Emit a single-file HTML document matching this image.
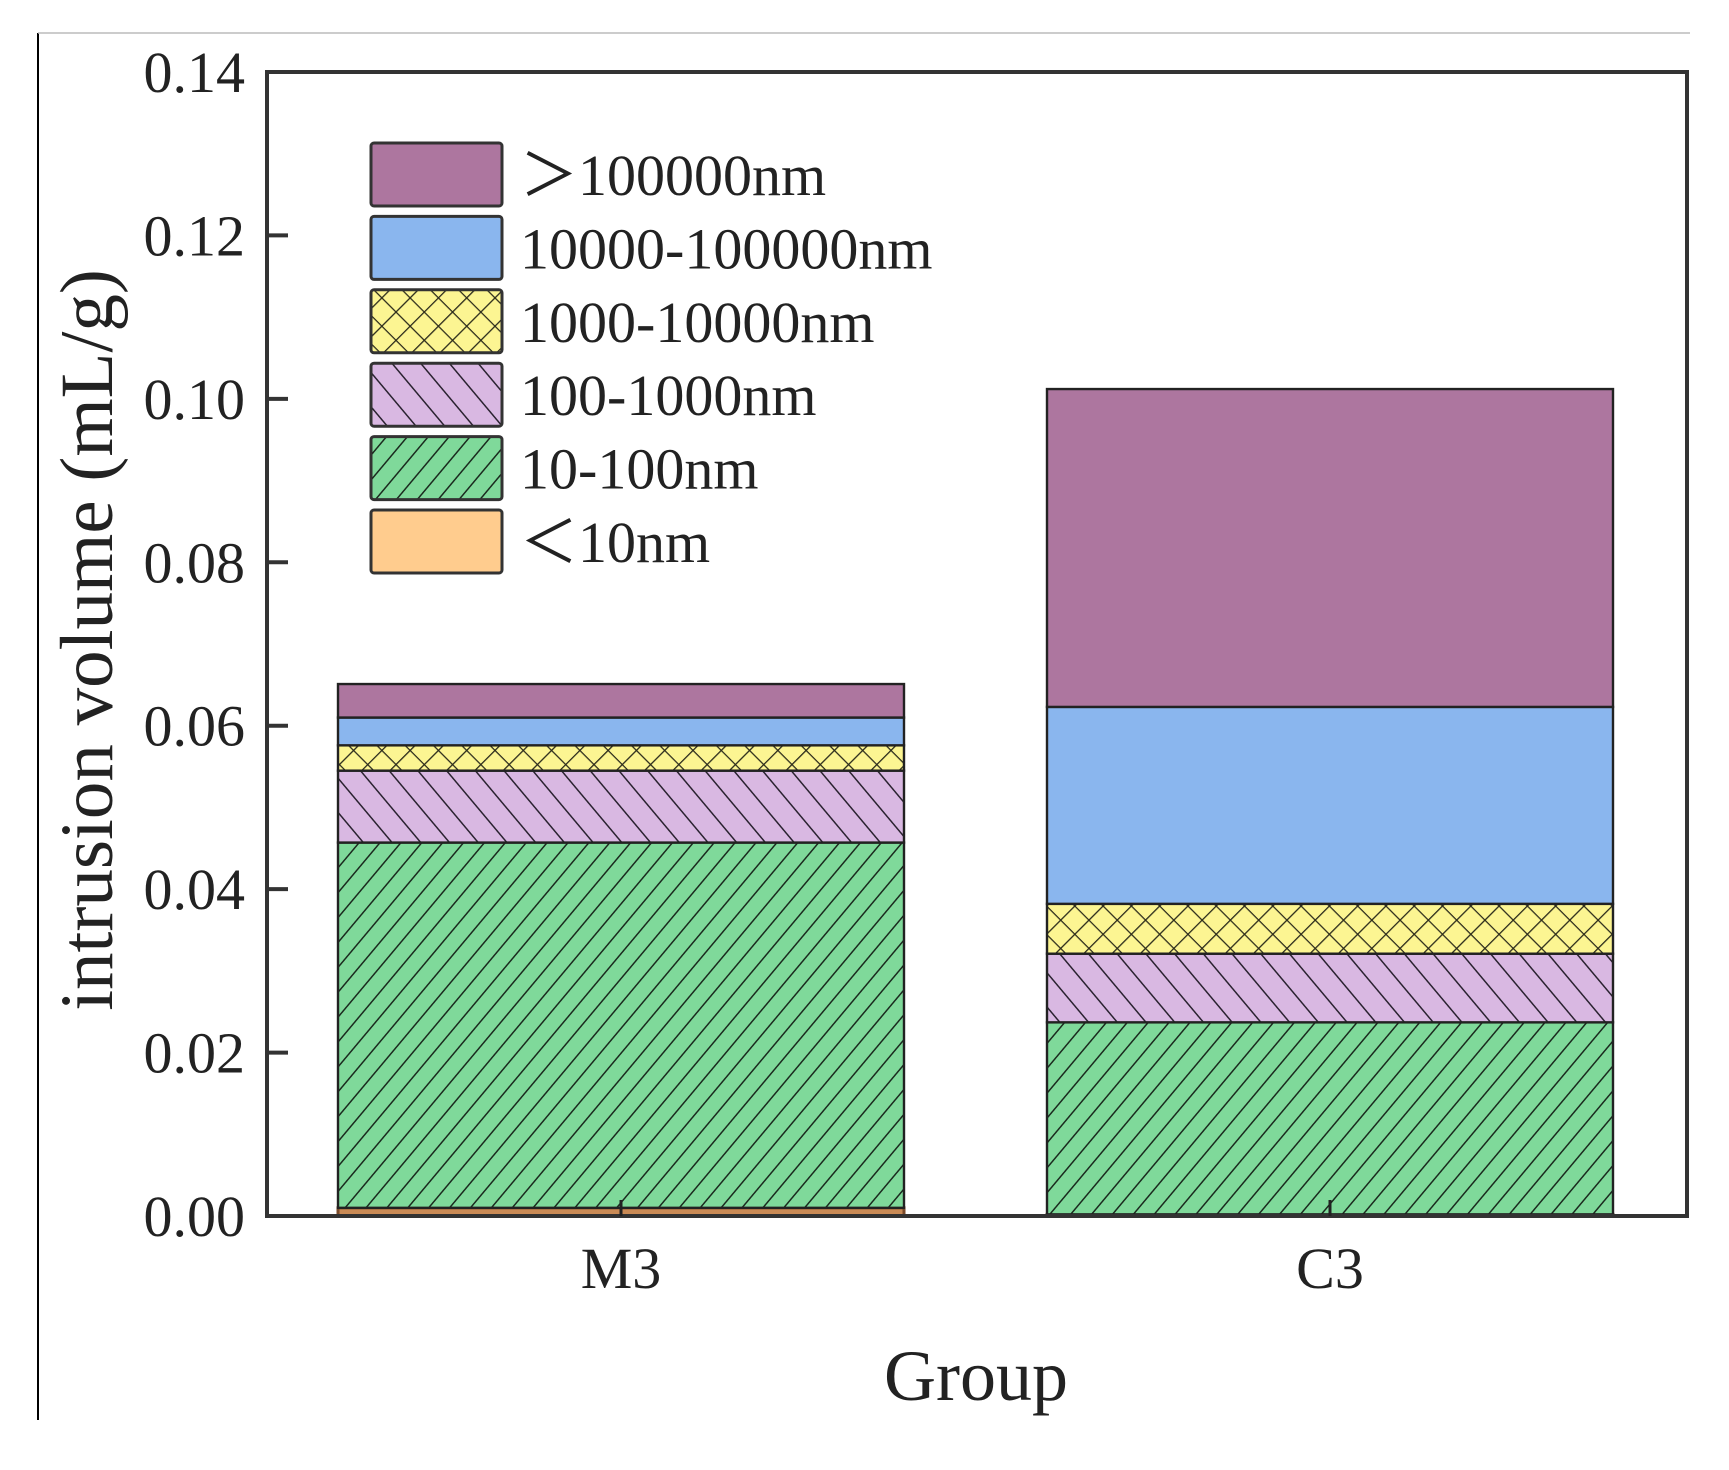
<!DOCTYPE html>
<html><head><meta charset="utf-8"><style>
html,body{margin:0;padding:0;background:#fff;}
svg{display:block;font-family:"Liberation Serif",serif;}
</style></head><body>
<svg id="chart" width="1729" height="1470" viewBox="0 0 1729 1470" xmlns="http://www.w3.org/2000/svg">
<defs>
<pattern id="p-green" patternUnits="userSpaceOnUse" width="16" height="16" patternTransform="rotate(40)">
<rect width="16" height="16" fill="#7fd99a"/><line x1="0" y1="0" x2="0" y2="16" stroke="#1a2a1e" stroke-width="3"/></pattern>
<pattern id="p-lav" patternUnits="userSpaceOnUse" width="22" height="22" patternTransform="rotate(-40)">
<rect width="22" height="22" fill="#d9b8e2"/><line x1="0" y1="0" x2="0" y2="22" stroke="#2a2230" stroke-width="3"/></pattern>
<pattern id="p-yel" patternUnits="userSpaceOnUse" width="20" height="20" patternTransform="rotate(45)">
<rect width="20" height="20" fill="#fcf592"/><line x1="0" y1="0" x2="0" y2="20" stroke="#2a2a1a" stroke-width="2.6"/><line x1="0" y1="0" x2="20" y2="0" stroke="#2a2a1a" stroke-width="2.6"/></pattern>
</defs>
<line x1="38" y1="33" x2="38" y2="1420" stroke="#000" stroke-width="2"/>
<line x1="38" y1="33" x2="1690" y2="33" stroke="#bbb" stroke-width="1.5"/>
<g id="bars"></g>
<g id="axes"></g>
<g id="legend"></g>
</svg>
<script>
const categories = ["M3", "C3"];
const seriesNames = [">100000nm", "10000-100000nm", "1000-10000nm", "100-1000nm", "10-100nm", "<10nm"];
const lt10 = [0.001, 0.0002];
const s10_100 = [0.0447, 0.0235];
const s100_1000 = [0.0088, 0.0084];
const s1000_10000 = [0.0031, 0.0061];
const s10000_100000 = [0.0034, 0.0241];
const gt100000 = [0.0041, 0.0389];
const yTicks = [0, 0.02, 0.04, 0.06, 0.08, 0.10, 0.12, 0.14];
const yTickLabels = ["0.00", "0.02", "0.04", "0.06", "0.08", "0.10", "0.12", "0.14"];

const NS = "http://www.w3.org/2000/svg";
const L = 267, R = 1687, T = 72, B = 1216, yMax = 0.14;
function y(v){ return B - (v / yMax) * (B - T); }
const centers = [621, 1330], barW = 566;
function x(i){ return centers[i]; }
function mk(tag, attrs, parent){
  const e = document.createElementNS(NS, tag);
  for (const k in attrs) e.setAttribute(k, attrs[k]);
  parent.appendChild(e); return e;
}
const stack = [
  {name: "<10nm", vals: lt10, fill: "#c98a55"},
  {name: "10-100nm", vals: s10_100, fill: "url(#p-green)"},
  {name: "100-1000nm", vals: s100_1000, fill: "url(#p-lav)"},
  {name: "1000-10000nm", vals: s1000_10000, fill: "url(#p-yel)"},
  {name: "10000-100000nm", vals: s10000_100000, fill: "#8ab6ee"},
  {name: ">100000nm", vals: gt100000, fill: "#ad769f"}
];
const bars = document.getElementById("bars");
categories.forEach((c, i) => {
  let base = 0;
  stack.forEach((s, k) => {
    const v = s.vals[i];
    const r = mk("rect", {x: x(i) - barW/2, y: y(base + v), width: barW, height: y(base) - y(base + v), fill: s.fill, stroke: k === 0 ? "#7a4a2a" : "#222", "stroke-width": k === 0 ? 3 : 2.4}, bars);
    
    
    base += v;
  });
});
const axes = document.getElementById("axes");
const frame = mk("rect", {x: L, y: T, width: R - L, height: B - T, fill: "none", stroke: "#333", "stroke-width": 4}, axes);


yTicks.forEach((t, i) => {
  if (i > 0 && i < yTicks.length - 1) mk("line", {x1: L, y1: y(t), x2: L + 21, y2: y(t), stroke: "#333", "stroke-width": 4}, axes);
  const tx = mk("text", {x: 245, y: y(t) + 20, "text-anchor": "end", "font-size": 58, fill: "#222"}, axes);
  tx.textContent = yTickLabels[i];
  
  
});
categories.forEach((c, i) => {
  mk("line", {x1: x(i), y1: B, x2: x(i), y2: B - 16, stroke: "#222", "stroke-width": 3}, axes);
  const tx = mk("text", {x: x(i), y: 1288, "text-anchor": "middle", "font-size": 58, fill: "#222"}, axes);
  tx.textContent = c;
  
  
});
const xt = mk("text", {x: 976, y: 1400, "text-anchor": "middle", "font-size": 72, fill: "#222"}, axes);
xt.textContent = "Group";


const yt = mk("text", {x: 0, y: 0, "text-anchor": "middle", "font-size": 75, fill: "#222", transform: "translate(112,640) rotate(-90)"}, axes);
yt.textContent = "intrusion volume (mL/g)";


const legend = document.getElementById("legend");
const legFills = ["#ad769f", "#8ab6ee", "url(#p-yel)", "url(#p-lav)", "url(#p-green)", "#ffcc8e"];
seriesNames.forEach((n, i) => {
  const top = 143 + i * 73.4;
  const g = mk("g", {}, legend);
  
  
  mk("rect", {x: 371, y: top, width: 131, height: 63, rx: 3, fill: legFills[i], stroke: "#333", "stroke-width": 3}, g);
  const t = mk("text", {x: 520, y: top + 52, "font-size": 58, fill: "#222"}, g);
  t.textContent = n.replace(">", "\uFF1E").replace("<", "\uFF1C");
});
</script>
</body></html>
